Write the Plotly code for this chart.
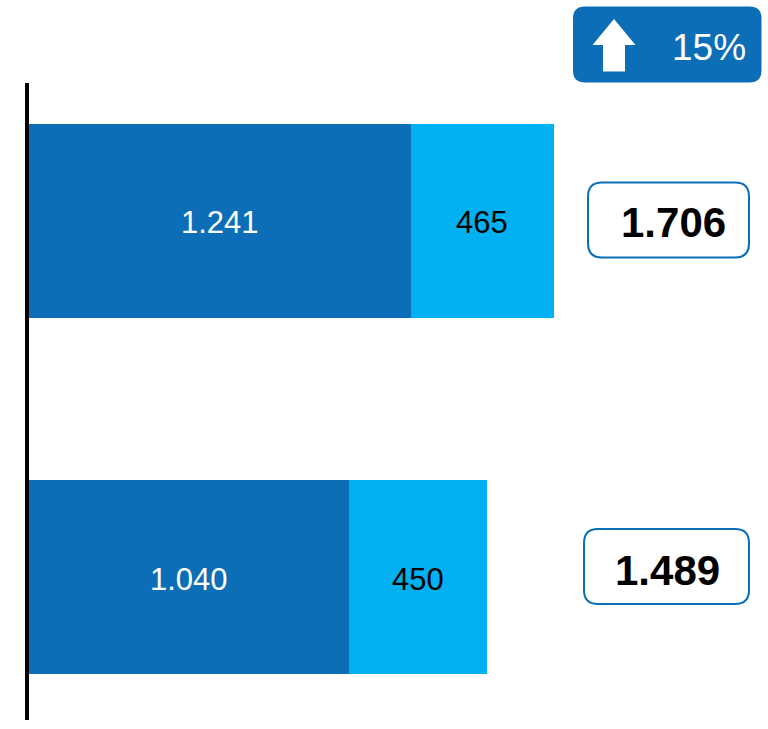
import plotly.graph_objects as go

# bottom bar first, plotly draws categories upward
periods = ['previous', 'current']
base_values = [1040, 1241]
extra_values = [450, 465]
totals = [1489, 1706]
change_pct = 15

DARK = '#0B6EB6'
LIGHT = '#00B0F0'
W, H = 768, 729
L, T, B = 29, 83, 9
FONT = 'Liberation Sans, Arial, sans-serif'


def px_x(x):
    return (x - L) / (W - L)


def px_y(y):
    return (H - B - y) / (H - T - B)


def round_box(x0, y0, x1, y1, r):
    # rounded rectangle as svg path, in paper coords
    xa, xb, xc, xd = px_x(x0), px_x(x0 + r), px_x(x1 - r), px_x(x1)
    ya, yb, yc, yd = px_y(y0), px_y(y0 + r), px_y(y1 - r), px_y(y1)
    return (f'M {xb} {ya} L {xc} {ya} Q {xd} {ya} {xd} {yb} L {xd} {yc} Q {xd} {yd} {xc} {yd} '
            f'L {xb} {yd} Q {xa} {yd} {xa} {yc} L {xa} {yb} Q {xa} {ya} {xb} {ya} Z')


def arrow_path():
    pts = [(614, 19), (635.5, 45), (625, 45), (625, 71.5), (603, 71.5), (603, 45), (592.5, 45)]
    return 'M ' + ' L '.join(f'{px_x(a)} {px_y(b)}' for a, b in pts) + ' Z'


def dotted(v):
    return f'{v:,}'.replace(',', '.')


fig = go.Figure()
fig.add_trace(go.Bar(y=periods, x=base_values, orientation='h', marker={'color': DARK, 'line': {'width': 0}},
                     hoverinfo='skip'))
fig.add_trace(go.Bar(y=periods, x=extra_values, orientation='h', marker={'color': LIGHT, 'line': {'width': 0}},
                     hoverinfo='skip'))

shapes = [
    {'type': 'path', 'xref': 'paper', 'yref': 'paper', 'path': round_box(573, 6.5, 761.5, 82.5, 12),
     'fillcolor': DARK, 'line': {'width': 0}},
    {'type': 'path', 'xref': 'paper', 'yref': 'paper', 'path': arrow_path(),
     'fillcolor': 'white', 'line': {'width': 0}},
    {'type': 'path', 'xref': 'paper', 'yref': 'paper', 'path': round_box(588, 182.5, 749, 257.5, 14),
     'fillcolor': 'white', 'line': {'width': 2, 'color': DARK}},
    {'type': 'path', 'xref': 'paper', 'yref': 'paper', 'path': round_box(584, 529, 749, 604, 14),
     'fillcolor': 'white', 'line': {'width': 2, 'color': DARK}},
]

annotations = [
    {'text': f'{change_pct}%', 'x': px_x(709), 'y': px_y(47), 'font': {'size': 37, 'color': 'white', 'family': FONT}},
    {'text': f'<b>{dotted(totals[1])}</b>', 'x': px_x(673.5), 'y': px_y(222),
     'font': {'size': 42, 'color': 'black', 'family': FONT}},
    {'text': f'<b>{dotted(totals[0])}</b>', 'x': px_x(667.5), 'y': px_y(570),
     'font': {'size': 42, 'color': 'black', 'family': FONT}},
]
for a in annotations:
    a.update(xref='paper', yref='paper', showarrow=False, xanchor='center', yanchor='middle')

# bar labels as data anchored annotations, they sit 2px under the bar centre
for p, b, e in zip(periods, base_values, extra_values):
    annotations.append({'text': dotted(b), 'x': b / 2, 'y': p, 'xref': 'x', 'yref': 'y', 'yshift': -2, 'showarrow': False,
                        'font': {'size': 31, 'color': 'white', 'family': FONT}})
    annotations.append({'text': dotted(e), 'x': b + e / 2, 'y': p, 'xref': 'x', 'yref': 'y', 'yshift': -2, 'showarrow': False,
                        'font': {'size': 31, 'color': 'black', 'family': FONT}})

fig.update_xaxes(range=[0, 2403], visible=False, fixedrange=True)
fig.update_yaxes(range=[-0.4, 1.387], showline=True, linewidth=4, linecolor='black', ticks='',
                 showticklabels=False, showgrid=False, zeroline=False, fixedrange=True)
fig.update_layout(width=W, height=H, margin={'l': L, 'r': 0, 't': T, 'b': B, 'pad': 0}, barmode='stack',
                  bargap=0.456, showlegend=False, plot_bgcolor='white', paper_bgcolor='white',
                  shapes=shapes, annotations=annotations)

fig.write_html('out.html', config={'displayModeBar': False},
               post_script="document.body.style.margin='0';document.body.style.overflow='hidden';")
